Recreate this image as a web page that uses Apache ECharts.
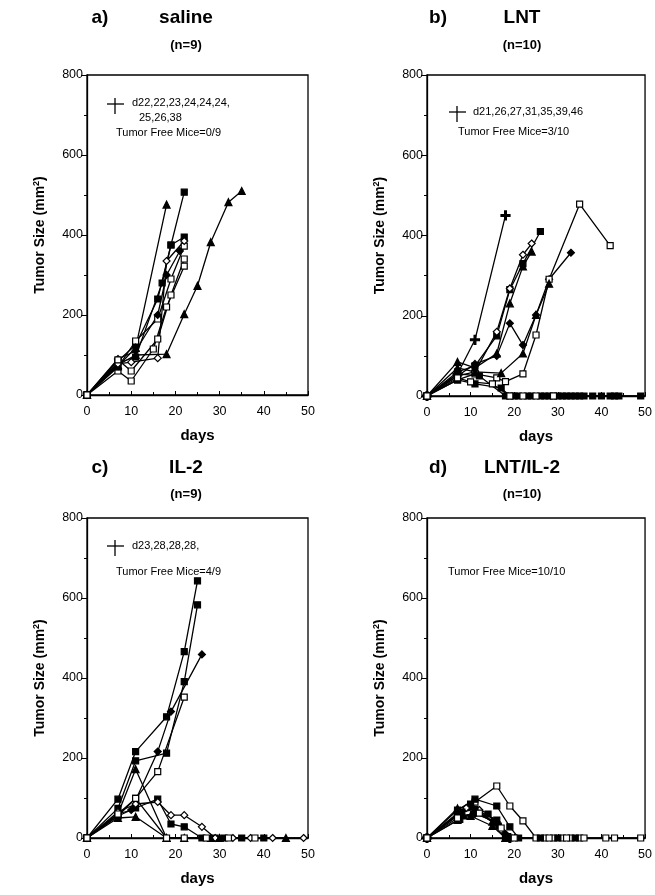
<!DOCTYPE html>
<html><head><meta charset="utf-8">
<script src="https://cdn.jsdelivr.net/npm/echarts/dist/echarts.min.js"></script>
<style>html,body{margin:0;padding:0;background:#fff}#c{width:655px;height:895px}</style>
</head><body><div id="c"></div>
<script>
// ---------- data ----------
const xTickValues = [0, 10, 20, 30, 40, 50];
const yTickValues = [0, 200, 400, 600, 800];
const panelLetters = ['a)', 'b)', 'c)', 'd)'];
const groupNames = ['saline', 'LNT', 'IL-2', 'LNT/IL-2'];
const groupSizes = ['(n=9)', '(n=10)', '(n=9)', '(n=10)'];
const deathDaysLine1 = ['d22,22,23,24,24,24,', 'd21,26,27,31,35,39,46', 'd23,28,28,28,', ''];
const deathDaysLine2 = ['25,26,38', '', '', ''];
const tumorFreeText = ['Tumor Free Mice=0/9', 'Tumor Free Mice=3/10', 'Tumor Free Mice=4/9', 'Tumor Free Mice=10/10'];

// a) saline  [day, size]
const salineM1 = [[0,0],[7,85],[11,125],[16,240],[19,375],[22,507]];
const salineM2 = [[0,0],[7,80],[11,95],[17,280],[19,375],[22,395]];
const salineM3 = [[0,0],[7,60],[10,35],[15,115],[18,220],[22,322]];
const salineM4 = [[0,0],[7,70],[11,135],[16,190],[19,290],[22,372]];
const salineM5 = [[0,0],[7,72],[11,118],[18,476]];
const salineM6 = [[0,0],[7,75],[11,100],[18,102],[22,202],[25,273],[28,382],[32,482],[35,510]];
const salineM7 = [[0,0],[7,78],[10,82],[16,92],[18,335],[22,385]];
const salineM8 = [[0,0],[7,90],[11,110],[16,200],[18,300],[21,360]];
const salineM9 = [[0,0],[7,88],[10,60],[16,140],[19,250],[22,340]];

// b) LNT
const lntM1 = [[0,0],[7,55],[11,140],[18,450]];
const lntM2 = [[0,0],[7,60],[11,75],[16,150],[19,265],[22,330],[26,410]];
const lntM3 = [[0,0],[7,50],[11,60],[16,160],[19,268],[22,352],[24,380]];
const lntM4 = [[0,0],[7,85],[11,70],[16,106],[19,231],[22,323],[24,360]];
const lntM5 = [[0,0],[7,50],[11,80],[16,100],[19,181],[22,127],[25,202],[28,291],[33,357]];
const lntM6 = [[0,0],[7,40],[11,55],[16,45],[18,36],[22,55],[25,152],[28,291],[35,478],[42,375]];
const lntM7 = [[0,0],[7,70],[11,60],[17,57],[22,106],[25,202],[28,280]];
const lntM8 = [[0,0],[7,40],[11,30],[17,20],[19,0],[21,0],[23,0],[26,0],[28,0],[30,0],[32,0],[34,0],[36,0],[38,0],[42,0],[44,0],[49,0]];
const lntM9 = [[0,0],[7,55],[12,50],[18,0],[20,0],[24,0],[27,0],[29,0],[31,0],[33,0],[35,0],[40,0],[43,0]];
const lntM10 = [[0,0],[7,45],[10,35],[15,30],[19,0],[22,0],[25,0],[29,0]];

// c) IL-2
const il2M1 = [[0,0],[7,97],[11,216],[18,303],[22,466],[25,643]];
const il2M2 = [[0,0],[7,74],[11,193],[18,212],[22,391],[25,583]];
const il2M3 = [[0,0],[7,60],[10,70],[16,216],[19,316],[26,459]];
const il2M4 = [[0,0],[7,55],[11,99],[16,166],[22,352]];
const il2M5 = [[0,0],[7,60],[11,172],[18,0]];
const il2M6 = [[0,0],[7,55],[11,75],[16,97],[19,35],[22,28],[26,0],[29,0],[31,0],[35,0],[40,0]];
const il2M7 = [[0,0],[7,65],[11,85],[16,90],[19,57],[22,57],[26,28],[29,0],[33,0],[37,0],[42,0],[49,0]];
const il2M8 = [[0,0],[7,50],[11,53],[18,0],[22,0],[28,0],[30,0],[45,0]];
const il2M9 = [[0,0],[7,60],[11,99],[18,0],[22,0],[27,0],[32,0],[38,0]];

// d) LNT/IL-2
const comboM1 = [[0,0],[7,60],[11,90],[16,130],[19,80],[22,43],[25,0],[27,0],[29,0],[31,0],[33,0],[35,0],[41,0],[43,0],[49,0]];
const comboM2 = [[0,0],[7,70],[11,97],[16,80],[19,28],[21,0]];
const comboM3 = [[0,0],[7,74],[10,80],[15,41],[18,0]];
const comboM4 = [[0,0],[7,55],[11,60],[16,40],[18,10],[19,0]];
const comboM5 = [[0,0],[8,50],[11,65],[16,35],[19,0]];
const comboM6 = [[0,0],[7,62],[10,85],[14,60],[18,0]];
const comboM7 = [[0,0],[9,75],[12,70],[17,20],[19,0]];
const comboM8 = [[0,0],[7,45],[10,55],[15,30],[18,0]];
const comboM9 = [[0,0],[8,65],[11,72],[16,45],[19,0],[26,0],[30,0],[34,0]];
const comboM10 = [[0,0],[7,50],[12,62],[17,25],[20,0],[28,0],[32,0],[36,0]];

// ---------- styling helpers ----------
const PLUS = 'path://M4,0L6,0L6,4L10,4L10,6L6,6L6,10L4,10L4,6L0,6L0,4L4,4Z';
const markerKinds = {
  fsq: {symbol: 'rect', fill: '#000'},
  osq: {symbol: 'rect', fill: '#fff'},
  ftri: {symbol: 'triangle', fill: '#000'},
  otri: {symbol: 'triangle', fill: '#fff'},
  fdia: {symbol: 'diamond', fill: '#000'},
  odia: {symbol: 'diamond', fill: '#fff'},
  plus: {symbol: PLUS, fill: '#000'}
};

const panels = [
  [[salineM1,'fsq'],[salineM2,'fsq'],[salineM3,'osq'],[salineM4,'osq'],[salineM5,'ftri'],[salineM6,'ftri'],[salineM7,'odia'],[salineM8,'fdia'],[salineM9,'osq']],
  [[lntM1,'plus'],[lntM2,'fsq'],[lntM3,'odia'],[lntM4,'ftri'],[lntM5,'fdia'],[lntM6,'osq'],[lntM7,'ftri'],[lntM8,'fsq'],[lntM9,'fsq'],[lntM10,'osq']],
  [[il2M1,'fsq'],[il2M2,'fsq'],[il2M3,'fdia'],[il2M4,'osq'],[il2M5,'ftri'],[il2M6,'fsq'],[il2M7,'odia'],[il2M8,'ftri'],[il2M9,'osq']],
  [[comboM1,'osq'],[comboM2,'fsq'],[comboM3,'ftri'],[comboM4,'fdia'],[comboM5,'plus'],[comboM6,'fsq'],[comboM7,'odia'],[comboM8,'ftri'],[comboM9,'fsq'],[comboM10,'osq']]
];

const FONT = 'Liberation Sans, Arial, Helvetica, sans-serif';
const grids = [
  {left: 87, top: 75, width: 221, height: 320},
  {left: 427, top: 75, width: 221, height: 321},
  {left: 87, top: 518, width: 221, height: 320},
  {left: 427, top: 518, width: 221, height: 320}
];

const xAxes = [], yAxes = [], series = [];
grids.forEach((g, i) => {
  g.show = true; g.borderColor = '#000'; g.borderWidth = 1.3; g.backgroundColor = 'transparent';
  xAxes.push({
    type: 'value', gridIndex: i, min: xTickValues[0], max: xTickValues[xTickValues.length-1], interval: 10,
    name: 'days', nameLocation: 'middle', nameGap: 33,
    nameTextStyle: {fontFamily: FONT, fontWeight: 'bold', fontSize: 15, color: '#000'},
    axisLine: {show: true, lineStyle: {color: '#000', width: 1.3}},
    axisTick: {show: true, inside: true, length: 4, lineStyle: {color: '#000'}},
    minorTick: {show: true, splitNumber: 2, length: 3, lineStyle: {color: '#000'}},
    axisLabel: {fontFamily: FONT, fontSize: 12.5, color: '#000', margin: 10},
    splitLine: {show: false}
  });
  yAxes.push({
    type: 'value', gridIndex: i, min: yTickValues[0], max: yTickValues[yTickValues.length-1], interval: 200,
    name: 'Tumor Size (mm{sup|2})', nameLocation: 'middle', nameGap: 38, nameRotate: 90,
    nameTextStyle: {fontFamily: FONT, fontWeight: 'bold', fontSize: 14, color: '#000',
      rich: {sup: {fontFamily: FONT, fontWeight: 'bold', fontSize: 9, color: '#000', verticalAlign: 'top', padding: [0,0,8,0]}}},
    axisLine: {show: true, lineStyle: {color: '#000', width: 1.3}},
    axisTick: {show: true, inside: false, length: 6, lineStyle: {color: '#000'}},
    minorTick: {show: true, splitNumber: 2, length: 3, lineStyle: {color: '#000'}},
    axisLabel: {fontFamily: FONT, fontSize: 12.5, color: '#000', margin: 4},
    splitLine: {show: false}
  });
  panels[i].forEach(([data, kind]) => {
    const m = markerKinds[kind];
    series.push({
      type: 'line', xAxisIndex: i, yAxisIndex: i, data: data,
      symbol: m.symbol, symbolSize: kind === 'plus' ? 9 : (kind.endsWith('tri') || kind.endsWith('dia') ? 7 : 6),
      showSymbol: true, animation: false,
      lineStyle: {color: '#000', width: 1.3},
      itemStyle: {color: m.fill, borderColor: '#000', borderWidth: 1.2}
    });
  });
});

// ---------- text / annotations ----------
const titlePos = [
  {lx: 100, cx: 186, ty: 18, ny: 45},
  {lx: 438, cx: 522, ty: 18, ny: 45},
  {lx: 100, cx: 186, ty: 468, ny: 494},
  {lx: 438, cx: 522, ty: 468, ny: 494}
];
const legendPos = [
  {sx: 115, sy: 104, tx: 132, ty: 103, t2x: 139, t2y: 118, fx: 116, fy: 133},
  {sx: 457, sy: 112, tx: 473, ty: 112, t2x: 0, t2y: 0, fx: 458, fy: 132},
  {sx: 115, sy: 546, tx: 132, ty: 546, t2x: 0, t2y: 0, fx: 116, fy: 572},
  {sx: 0, sy: 0, tx: 0, ty: 0, t2x: 0, t2y: 0, fx: 448, fy: 572}
];
const graphics = [];
const txt = (x, y, text, size, bold, align) => ({
  type: 'text', x: x, y: y, silent: true,
  style: {text: text, fontFamily: FONT, fontSize: size, fontWeight: bold ? 'bold' : 'normal',
    fill: '#000', align: align || 'left', verticalAlign: 'middle'}
});
titlePos.forEach((p, i) => {
  graphics.push(txt(p.lx, p.ty, panelLetters[i], 19, true, 'center'));
  graphics.push(txt(p.cx, p.ty, groupNames[i], 19, true, 'center'));
  graphics.push(txt(p.cx, p.ny, groupSizes[i], 13, true, 'center'));
});
legendPos.forEach((p, i) => {
  if (deathDaysLine1[i]) {
    graphics.push({type: 'line', silent: true, shape: {x1: p.sx, y1: p.sy - 6, x2: p.sx, y2: p.sy + 10}, style: {stroke: '#000', lineWidth: 1.3}});
    graphics.push({type: 'line', silent: true, shape: {x1: p.sx - 8, y1: p.sy, x2: p.sx + 9, y2: p.sy}, style: {stroke: '#000', lineWidth: 1.3}});
    graphics.push(txt(p.tx, p.ty, deathDaysLine1[i], 11, false));
  }
  if (deathDaysLine2[i]) graphics.push(txt(p.t2x, p.t2y, deathDaysLine2[i], 11, false));
  graphics.push(txt(p.fx, p.fy, tumorFreeText[i], 11, false));
});

const chart = echarts.init(document.getElementById('c'), null, {renderer: 'canvas'});
chart.setOption({
  animation: false,
  backgroundColor: '#fff',
  grid: grids, xAxis: xAxes, yAxis: yAxes, series: series,
  graphic: graphics
});
</script></body></html>
